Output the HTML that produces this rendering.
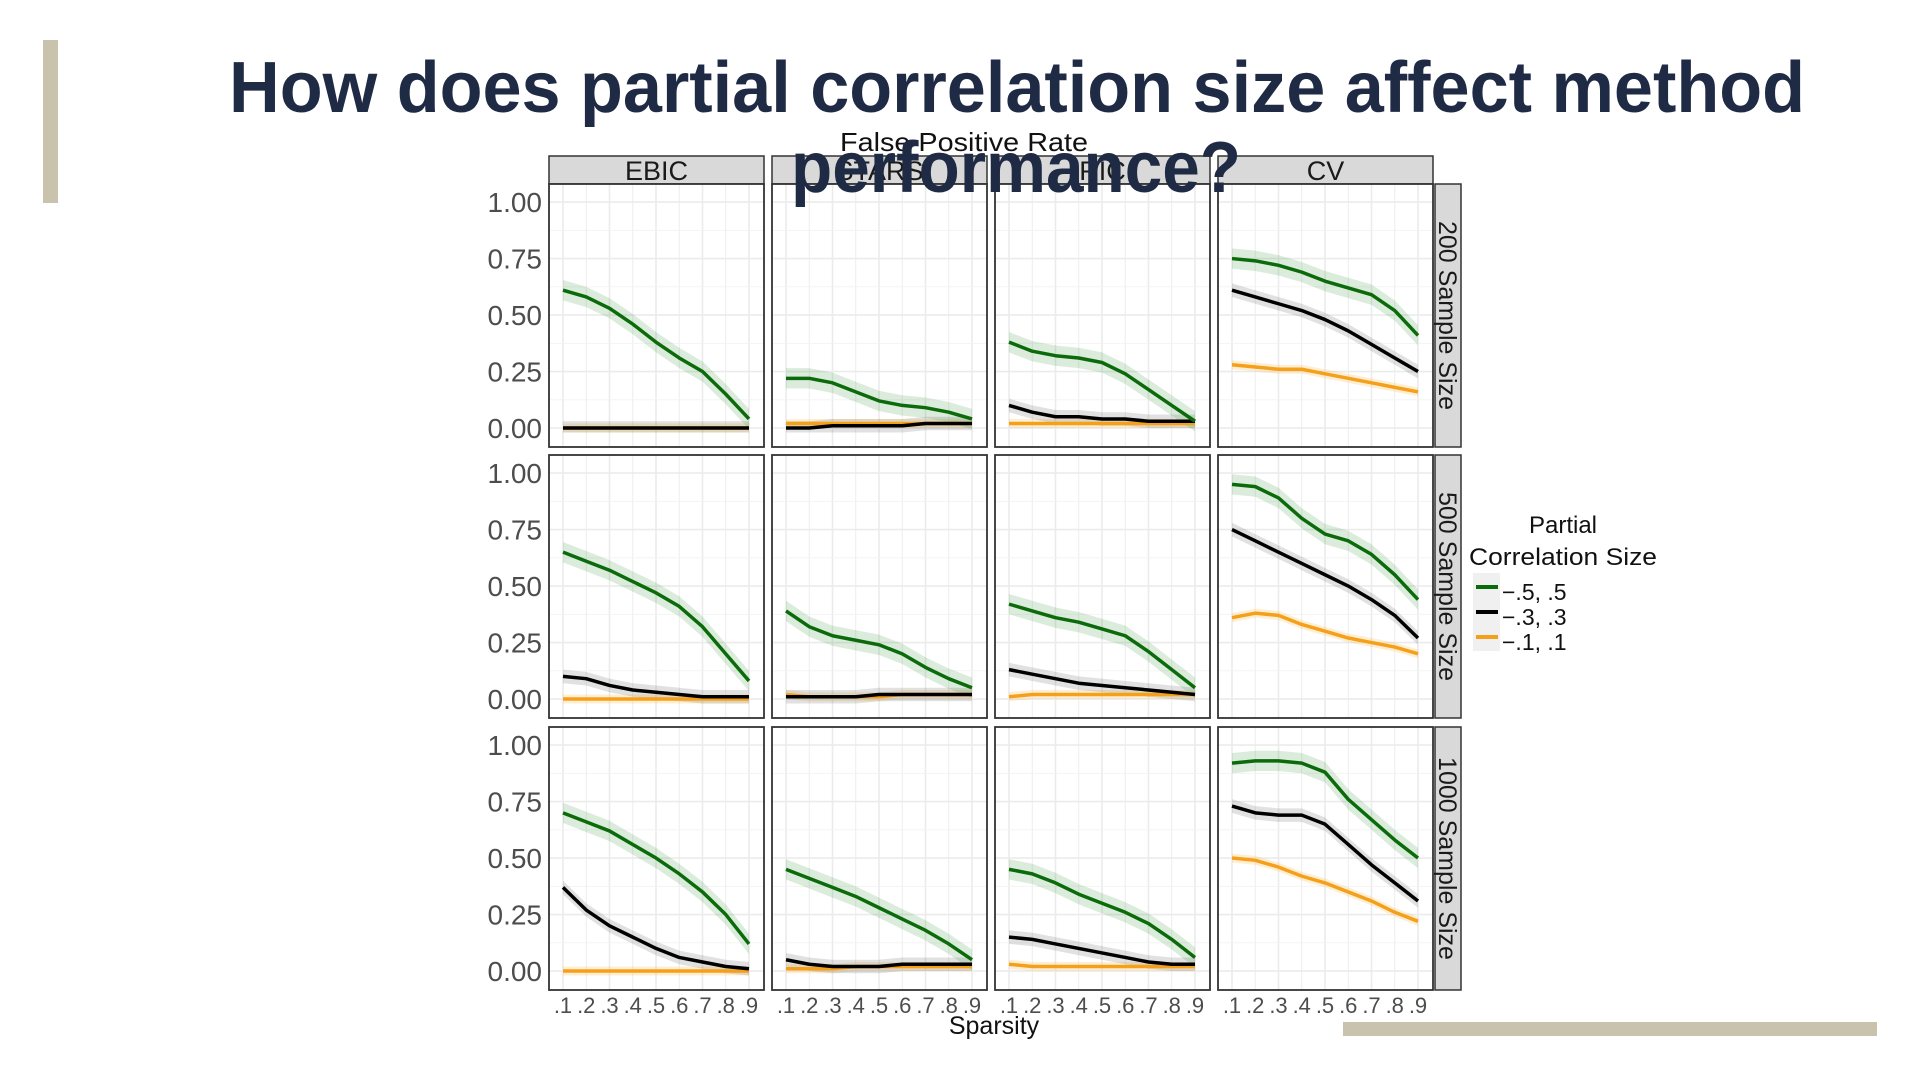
<!DOCTYPE html>
<html><head><meta charset="utf-8"><style>
html,body{margin:0;padding:0;background:#fff;width:1920px;height:1080px;overflow:hidden}
svg{display:block}
</style></head><body>
<svg id="chart" width="1920" height="1080" xmlns="http://www.w3.org/2000/svg" font-family="Liberation Sans, sans-serif"></svg>
<script>
const methods = ["EBIC","STARS","RIC","CV"];
const sampleSizes = ["200 Sample Size","500 Sample Size","1000 Sample Size"];
const sparsity = [0.1,0.2,0.3,0.4,0.5,0.6,0.7,0.8,0.9];
const xTickLabels = [".1",".2",".3",".4",".5",".6",".7",".8",".9"];
const yTicks = [0,0.25,0.5,0.75,1];
const yTickLabels = ["0.00","0.25","0.50","0.75","1.00"];
const seriesNames = ["\u2212.5, .5","\u2212.3, .3","\u2212.1, .1"];
const green200 = [[.61,.58,.53,.46,.38,.31,.25,.15,.04],[.22,.22,.20,.16,.12,.10,.09,.07,.04],[.38,.34,.32,.31,.29,.24,.17,.10,.03],[.75,.74,.72,.69,.65,.62,.59,.52,.41]];
const black200 = [[0,0,0,0,0,0,0,0,0],[.00,.00,.01,.01,.01,.01,.02,.02,.02],[.10,.07,.05,.05,.04,.04,.03,.03,.03],[.61,.58,.55,.52,.48,.43,.37,.31,.25]];
const orange200 = [[0,0,0,0,0,0,0,0,0],[.02,.02,.02,.02,.02,.02,.02,.02,.02],[.02,.02,.02,.02,.02,.02,.02,.02,.02],[.28,.27,.26,.26,.24,.22,.20,.18,.16]];
const green500 = [[.65,.61,.57,.52,.47,.41,.32,.20,.08],[.39,.32,.28,.26,.24,.20,.14,.09,.05],[.42,.39,.36,.34,.31,.28,.21,.13,.05],[.95,.94,.89,.80,.73,.70,.64,.55,.44]];
const black500 = [[.10,.09,.06,.04,.03,.02,.01,.01,.01],[.01,.01,.01,.01,.02,.02,.02,.02,.02],[.13,.11,.09,.07,.06,.05,.04,.03,.02],[.75,.70,.65,.60,.55,.50,.44,.37,.27]];
const orange500 = [[0,0,0,0,0,0,0,0,0],[.02,.01,.01,.01,.01,.02,.02,.02,.02],[.01,.02,.02,.02,.02,.02,.02,.02,.02],[.36,.38,.37,.33,.30,.27,.25,.23,.20]];
const green1000 = [[.70,.66,.62,.56,.50,.43,.35,.25,.12],[.45,.41,.37,.33,.28,.23,.18,.12,.05],[.45,.43,.39,.34,.30,.26,.21,.14,.06],[.92,.93,.93,.92,.88,.76,.67,.58,.50]];
const black1000 = [[.37,.27,.20,.15,.10,.06,.04,.02,.01],[.05,.03,.02,.02,.02,.03,.03,.03,.03],[.15,.14,.12,.10,.08,.06,.04,.03,.03],[.73,.70,.69,.69,.65,.56,.47,.39,.31]];
const orange1000 = [[0,0,0,0,0,0,0,0,0],[.01,.01,.01,.02,.02,.02,.02,.02,.02],[.03,.02,.02,.02,.02,.02,.02,.02,.02],[.50,.49,.46,.42,.39,.35,.31,.26,.22]];
const ribbonHalf = [0.045,0.03,0.02];

const NS="http://www.w3.org/2000/svg";
const svg=document.getElementById('chart');
function mk(tag,attrs,parent){const e=document.createElementNS(NS,tag);for(const k in attrs)e.setAttribute(k,attrs[k]);(parent||svg).appendChild(e);return e;}
const colors=["#0b6b0b","#000000","#f5a01a"];
const fills=["rgba(60,150,60,0.18)","rgba(90,90,90,0.18)","rgba(250,180,60,0.22)"];
const rowsData=[[green200,black200,orange200],[green500,black500,orange500],[green1000,black1000,orange1000]];
const panelX=[549,772,995,1218], panelW=215;
const panelY=[184,455,727], panelH=263;
const yMin=-0.084, yMax=1.08;

let e=mk('rect',{x:43,y:40,width:15,height:163,fill:'#c9c2ad'});


e=mk('rect',{x:1343,y:1022,width:534,height:14,fill:'#c9c2ad'});



e=mk('text',{x:840,y:151,'font-size':26,fill:'#111',textLength:248,lengthAdjust:'spacingAndGlyphs'});
e.textContent='False Positive Rate';



methods.forEach((m,c)=>{
  const s=mk('rect',{x:panelX[c],y:156,width:panelW,height:28,fill:'#d9d9d9',stroke:'#333','stroke-width':1.5});
  
  
  const t=mk('text',{x:panelX[c]+panelW/2,y:180,'font-size':27,'text-anchor':'middle',fill:'#1a1a1a'});
  t.textContent=m;
  
  
});

rowsData.forEach((series,r)=>{
  const py=panelY[r];
  const ys=v=>py+panelH-(v-yMin)/(yMax-yMin)*panelH;
  const rs=mk('rect',{x:1435,y:py,width:26,height:panelH,fill:'#d9d9d9',stroke:'#333','stroke-width':1.5});
  
  
  const rt=mk('text',{x:0,y:0,'font-size':25,'text-anchor':'middle',fill:'#1a1a1a',transform:`translate(1439,${py+panelH/2}) rotate(90)`});
  rt.textContent=sampleSizes[r];
  
  
  yTicks.forEach((v,i)=>{
    const t=mk('text',{x:542,y:ys(v)+10,'font-size':28,'text-anchor':'end',fill:'#4d4d4d'});
    t.textContent=yTickLabels[i];
    
    
  });
  methods.forEach((m,c)=>{
    const px=panelX[c];
    const xs=v=>px+14+(v-0.1)/0.8*(panelW-29);
    const g=mk('g',{});
    
    
    mk('rect',{x:px,y:py,width:panelW,height:panelH,fill:'#fff'},g);
    for(let k=0;k<sparsity.length;k++){
      const x=xs(sparsity[k]);
      mk('line',{x1:x,x2:x,y1:py,y2:py+panelH,stroke:'#ebebeb','stroke-width':k%2==0?1.6:0.9},g);
    }
    for(let k=0;k<yTicks.length;k++){
      mk('line',{x1:px,x2:px+panelW,y1:ys(yTicks[k]),y2:ys(yTicks[k]),stroke:'#ebebeb','stroke-width':1.6},g);
      if(k<yTicks.length-1){const yy=ys(yTicks[k]+0.125);mk('line',{x1:px,x2:px+panelW,y1:yy,y2:yy,stroke:'#f2f2f2','stroke-width':0.9},g);}
    }
    [2,1,0].forEach(si=>{
      const vals=series[si][c];
      const h=ribbonHalf[si];
      let d='';
      vals.forEach((v,i)=>{d+=(i?'L':'M')+xs(sparsity[i])+','+ys(v+h);});
      for(let i=vals.length-1;i>=0;i--) d+='L'+xs(sparsity[i])+','+ys(Math.max(vals[i]-h,-0.02));
      const rib=mk('path',{d:d+'Z',fill:fills[si],stroke:'none'},g);
      
      
    });
    [2,1,0].forEach(si=>{
      const vals=series[si][c];
      const pts=vals.map((v,i)=>xs(sparsity[i])+','+ys(v)).join(' ');
      const pl=mk('polyline',{points:pts,fill:'none',stroke:colors[si],'stroke-width':3.5,'stroke-linejoin':'round'},g);
      
      
    });
    mk('rect',{x:px,y:py,width:panelW,height:panelH,fill:'none',stroke:'#333','stroke-width':1.8},g);
    if(r===2){
      xTickLabels.forEach((lab,i)=>{
        const t=mk('text',{x:xs(sparsity[i]),y:1013,'font-size':22,'text-anchor':'middle',fill:'#4d4d4d'});
        t.textContent=lab;
        
        
      });
    }
  });
});

e=mk('text',{x:994,y:1034,'font-size':25,'text-anchor':'middle',fill:'#111'});
e.textContent='Sparsity';



const lg=mk('g',{});


let lt=mk('text',{x:1563,y:533,'font-size':24,'text-anchor':'middle',fill:'#111'},lg);lt.textContent='Partial';


lt=mk('text',{x:1469,y:565,'font-size':24,fill:'#111',textLength:188,lengthAdjust:'spacingAndGlyphs'},lg);lt.textContent='Correlation Size';


mk('rect',{x:1473,y:573,width:27,height:78,fill:'#f0f0f0'},lg);
seriesNames.forEach((n,i)=>{
  const y=587+i*25;
  mk('line',{x1:1476,x2:1498,y1:y,y2:y,stroke:colors[i],'stroke-width':4},lg);
  const t=mk('text',{x:1502,y:y+13,'font-size':23,fill:'#111'},lg);
  t.textContent=n;
  
  
});

e=mk('text',{x:229,y:112,'font-size':72,'font-weight':'bold',fill:'#1f2a44',textLength:1576,lengthAdjust:'spacingAndGlyphs'});
e.textContent='How does partial correlation size affect method';


e=mk('text',{x:791,y:192,'font-size':72,'font-weight':'bold',fill:'#1f2a44',textLength:450,lengthAdjust:'spacingAndGlyphs'});
e.textContent='performance?';


</script>
</body></html>
